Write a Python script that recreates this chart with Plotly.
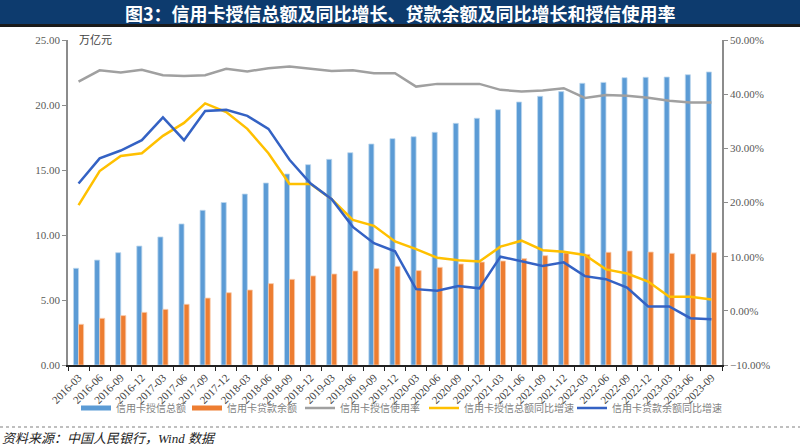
import plotly.graph_objects as go

categories = ["2016-03","2016-06","2016-09","2016-12","2017-03","2017-06","2017-09","2017-12",
              "2018-03","2018-06","2018-09","2018-12","2019-03","2019-06","2019-09","2019-12",
              "2020-03","2020-06","2020-09","2020-12","2021-03","2021-06","2021-09","2021-12",
              "2022-03","2022-06","2022-09","2022-12","2023-03","2023-06","2023-09"]

credit_limit = [7.44, 8.07, 8.64, 9.15, 9.85, 10.85, 11.90, 12.50, 13.15, 14.00, 14.69, 15.41,
                15.82, 16.33, 17.00, 17.41, 17.56, 17.90, 18.59, 18.98, 19.64, 20.23, 20.67, 21.03,
                21.67, 21.74, 22.10, 22.13, 22.15, 22.33, 22.54]

loan_balance = [3.13, 3.59, 3.80, 4.05, 4.28, 4.67, 5.15, 5.56, 5.77, 6.26, 6.59, 6.85,
                7.00, 7.23, 7.41, 7.59, 7.26, 7.51, 7.77, 7.92, 8.00, 8.18, 8.41, 8.62,
                8.51, 8.67, 8.77, 8.69, 8.59, 8.54, 8.64]

usage_rate = [42.3, 44.4, 44.0, 44.5, 43.5, 43.35, 43.5, 44.7, 44.2, 44.8, 45.1, 44.65,
              44.3, 44.4, 43.85, 43.85, 41.4, 41.9, 41.9, 41.9, 40.8, 40.5, 40.7, 41.1,
              39.3, 39.85, 39.7, 39.35, 38.8, 38.45, 38.45]

limit_yoy = [19.5, 25.8, 28.6, 29.1, 32.3, 34.7, 38.3, 36.7, 33.6, 29.1, 23.4, 23.4,
             20.6, 16.8, 15.7, 12.8, 11.4, 9.8, 9.35, 9.1, 11.85, 12.95, 11.2, 10.9,
             10.3, 7.65, 6.9, 5.4, 2.6, 2.6, 2.1]

loan_yoy = [23.5, 28.15, 29.6, 31.5, 35.7, 31.5, 36.9, 37.1, 36.0, 33.6, 27.9, 23.5,
            20.6, 15.5, 12.5, 11.0, 4.0, 3.7, 4.6, 4.15, 10.0, 9.1, 8.3, 8.95,
            6.4, 5.85, 4.3, 0.8, 0.8, -1.35, -1.55]

names = ["信用卡授信总额", "信用卡贷款余额", "信用卡授信使用率", "信用卡授信总额同比增速", "信用卡贷款余额同比增速"]
colors = ["#5B9BD5", "#ED7D31", "#A0A0A0", "#FFC000", "#3462C4"]
legend_widths = [66, 68, 79, 103, 106]

SERIF = "Liberation Serif, Noto Sans CJK SC, serif"

fig = go.Figure()
fig.add_trace(go.Bar(x=categories, y=credit_limit, name=names[0], marker_color=colors[0],
                     marker_line=dict(color="#BDD7EE", width=0.8), showlegend=False, yaxis="y"))
fig.add_trace(go.Bar(x=categories, y=loan_balance, name=names[1], marker_color=colors[1],
                     marker_line=dict(color="#F8CBAD", width=0.8), showlegend=False, yaxis="y"))
# legend proxies for the bars (wide swatches as in the reference)
for i in range(2):
    fig.add_trace(go.Scatter(x=[categories[0]], y=[None], mode="lines", name=names[i],
                             line=dict(color=colors[i], width=5), yaxis="y",
                             legendwidth=legend_widths[i]))
line_series = [usage_rate, limit_yoy, loan_yoy]
for k, vals in enumerate(line_series):
    i = k + 2
    fig.add_trace(go.Scatter(x=categories, y=vals, name=names[i], mode="lines",
                             line=dict(color=colors[i], width=2.5), yaxis="y2",
                             legendwidth=legend_widths[i]))

L, R, T, B = 68, 78, 40, 83
W, H = 800, 448
pw, ph = W - L - R, H - T - B

def px(x):
    return (x - L) / pw

def py(y):
    return (H - B - y) / ph

fig.update_layout(
    width=W, height=H,
    margin=dict(l=L, r=R, t=T, b=B, autoexpand=False),
    paper_bgcolor="white", plot_bgcolor="white",
    barmode="group", bargap=0.52, bargroupgap=0.0,
    font=dict(family=SERIF, size=10, color="#595959"),
    xaxis=dict(type="category", tickson="boundaries", ticks="outside", ticklen=4,
               tickcolor="#222", showline=True, linecolor="#222", linewidth=2,
               tickangle=-45, tickfont=dict(family=SERIF, size=11, color="#404040"),
               showgrid=False, zeroline=False),
    yaxis=dict(range=[0, 25], dtick=5, tickformat=".2f", showline=True, linecolor="#8C8C8C",
               linewidth=1.5, ticks="outside", ticklen=4, tickcolor="#8C8C8C", showgrid=False,
               zeroline=False, tickfont=dict(family=SERIF, size=11, color="#595959")),
    yaxis2=dict(range=[-10, 50], dtick=10, tickformat=".2f", ticksuffix="%", overlaying="y",
                side="right", showline=True, linecolor="#8C8C8C", linewidth=1.5, ticks="outside",
                ticklen=4, tickcolor="#8C8C8C", showgrid=False, zeroline=False,
                tickfont=dict(family=SERIF, size=11, color="#595959")),
    legend=dict(orientation="h", x=px(76), xanchor="left", y=py(408), yanchor="middle",
                font=dict(family=SERIF, size=10, color="#7F7F7F"), itemwidth=30,
                entrywidthmode="pixels", bgcolor="rgba(0,0,0,0)"),
    shapes=[
        dict(type="rect", xref="paper", yref="paper", x0=px(0), x1=px(W), y0=py(24), y1=py(0),
             fillcolor="#0D3B6E", line_width=0, layer="above"),
        dict(type="rect", xref="paper", yref="paper", x0=px(0), x1=px(W), y0=py(27), y1=py(24),
             fillcolor="#1A1A1A", line_width=0, layer="above"),
        dict(type="line", xref="paper", yref="paper", x0=px(0), x1=px(W), y0=py(427), y1=py(427),
             line=dict(color="#808080", width=1.2, dash="dot")),
    ],
    annotations=[
        dict(text="<b>图3：信用卡授信总额及同比增长、贷款余额及同比增长和授信使用率</b>",
             xref="paper", yref="paper", x=px(400), y=py(12.5), xanchor="center", yanchor="middle",
             showarrow=False, font=dict(family="Noto Sans CJK SC", size=18, color="white")),
        dict(text="万亿元", xref="paper", yref="paper", x=px(77), y=py(40), xanchor="left",
             yanchor="middle", showarrow=False, font=dict(family=SERIF, size=11, color="#404040")),
        dict(text="<i>资料来源：中国人民银行，Wind 数据</i>", xref="paper", yref="paper",
             x=px(0), y=py(438), xanchor="left", yanchor="middle", showarrow=False,
             font=dict(family=SERIF, size=13, color="#222222")),
    ],
)

fig.write_html("out.html", config={"displayModeBar": False},
               post_script="document.body.style.margin='0';document.body.style.overflow='hidden';")
